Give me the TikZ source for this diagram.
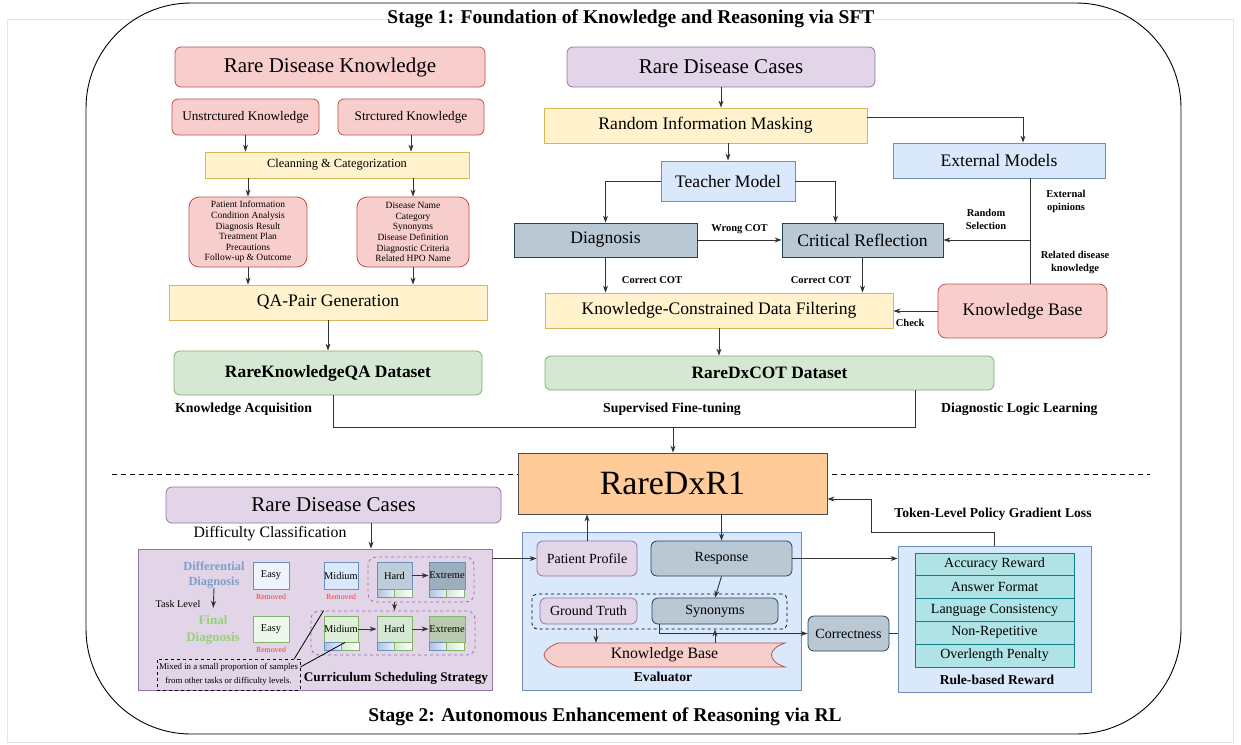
\documentclass[tikz,border=0pt]{standalone}
\usepackage{fontspec}
\setmainfont{Liberation Serif}
\usetikzlibrary{arrows.meta}

\definecolor{redfill}{HTML}{F8CECC}
\definecolor{reddraw}{HTML}{B85450}
\definecolor{yelfill}{HTML}{FFF2CC}
\definecolor{yeldraw}{HTML}{D6B656}
\definecolor{purfill}{HTML}{E1D5E7}
\definecolor{purdraw}{HTML}{9673A6}
\definecolor{blufill}{HTML}{DAE8FC}
\definecolor{bludraw}{HTML}{6C8EBF}
\definecolor{grnfill}{HTML}{D5E8D4}
\definecolor{grndraw}{HTML}{82B366}
\definecolor{gbfill}{HTML}{BAC8D3}
\definecolor{gbdraw}{HTML}{23445D}
\definecolor{orafill}{HTML}{FFCC99}
\definecolor{tealfill}{HTML}{B0E3E6}
\definecolor{tealdraw}{HTML}{0E8088}
\definecolor{easyblue}{HTML}{EEF4FD}
\definecolor{easygreen}{HTML}{EEF8EA}
\definecolor{hardblue}{HTML}{BFCCDA}
\definecolor{extblue}{HTML}{9DAEBF}
\definecolor{midgreen}{HTML}{E0EFDA}
\definecolor{extgreen}{HTML}{B8CBB0}
\definecolor{ddblue}{HTML}{7E9FCB}
\definecolor{fdgreen}{HTML}{97D077}
\definecolor{rmvred}{HTML}{FF3333}

\tikzset{
  >={Stealth[length=7pt,width=5pt]},
  conn/.style={draw=black!80, line width=0.9pt},
  dims/.style 2 args={minimum width=#1pt, minimum height=#2pt},
  box/.style={draw, rectangle, align=center, inner sep=1pt, line width=0.8pt},
  rnd/.style={rounded corners=6pt},
  redbox/.style={box, rnd, fill=redfill, draw=reddraw},
  yelbox/.style={box, fill=yelfill, draw=yeldraw},
  purbox/.style={box, fill=purfill, draw=purdraw},
  blubox/.style={box, fill=blufill, draw=bludraw},
  grnbox/.style={box, rnd, fill=grnfill, draw=grndraw},
  gbox/.style={box, fill=gbfill, draw=gbdraw},
  tealbox/.style={box, fill=tealfill, draw=tealdraw},
  difbox/.style={box, inner sep=0pt, font=\fontsize{10.4}{12}\selectfont},
  grpbox/.style={draw=purdraw, dashed, rounded corners=8pt, line width=0.8pt},
  f21/.style={font=\fontsize{21}{25}\selectfont},
  f176/.style={font=\fontsize{17.6}{21}\selectfont},
  f158/.style={font=\fontsize{15.8}{19}\selectfont},
  f14/.style={font=\fontsize{14}{17}\selectfont},
  f13/.style={font=\fontsize{13.2}{16}\selectfont},
  lbl/.style={font=\bfseries\fontsize{10.5}{13}\selectfont, align=center, inner sep=0pt},
  lbl2/.style={font=\bfseries\fontsize{13.8}{16}\selectfont, inner sep=0pt},
  lbl3/.style={font=\bfseries\fontsize{13.6}{16}\selectfont, inner sep=0pt},
  rmv/.style={font=\fontsize{7.8}{9}\selectfont, text=rmvred, inner sep=0pt},
  title/.style={font=\bfseries\fontsize{19.5}{23}\selectfont, inner sep=0pt}
}

\begin{document}
\begin{tikzpicture}[x=1pt, y=-1pt]
    \useasboundingbox (0,0) rectangle (1241,744);
    % frame
    \draw[gray!20, line width=0.8pt] (7,19) rectangle (1233,742);
    \draw[line width=0.9pt, rounded corners=105pt] (86,3) rectangle (1181,734);
    \node[title] (st1) at (631,19) {Stage 1: Foundation of Knowledge and Reasoning via SFT};
    \node[title] (st2) at (605,717) {Stage 2: Autonomous Enhancement of Reasoning via RL};

    % stage 1, knowledge
    \node[redbox, dims={310}{40}, f21] (rdk) at (330,67) {Rare Disease Knowledge};
    \node[redbox, dims={147}{36}, f13] (unstr) at (245.5,117) {Unstrctured Knowledge};
    \node[redbox, dims={146}{36}, f13] (str) at (411,117) {Strctured Knowledge};
    \node[yelbox, dims={264}{26}, font=\fontsize{12.4}{15}\selectfont] (clean) at (337,165) {Cleanning \& Categorization};
    \node[redbox, rounded corners=10pt, dims={118}{70}, font=\fontsize{9.5}{10.6}\selectfont] (patl) at (248,232)
        {Patient Information\\Condition Analysis\\Diagnosis Result\\Treatment Plan\\Precautions\\Follow-up \& Outcome};
    \node[redbox, rounded corners=10pt, dims={112}{70}, font=\fontsize{9.5}{10.6}\selectfont] (disl) at (413,232)
        {Disease Name\\Category\\Synonyms\\Disease Definition\\Diagnostic Criteria\\Related HPO Name};
    \node[yelbox, dims={318}{35}, f176] (qa) at (328,302.5) {QA-Pair Generation};
    \node[grnbox, dims={308}{44}, font=\bfseries\fontsize{17.4}{21}\selectfont] (rkqa) at (328,373) {RareKnowledgeQA Dataset};
    \node[lbl2, anchor=west] (kacq) at (175,409) {Knowledge Acquisition};

    \draw[conn,->] (unstr.south) -- (unstr.south |- clean.north);
    \draw[conn,->] (str.south) -- (str.south |- clean.north);
    \draw[conn,->] (clean.south -| patl.north) -- (patl.north);
    \draw[conn,->] (clean.south -| disl.north) -- (disl.north);
    \draw[conn,->] (patl.south) -- (patl.south |- qa.north);
    \draw[conn,->] (disl.south) -- (disl.south |- qa.north);
    \draw[conn,->] (qa.south) -- (rkqa.north);

    % stage 1, cases
    \node[purbox, rnd, dims={308}{40}, f21] (rdc1) at (721,67) {Rare Disease Cases};
    \node[yelbox, dims={323}{35}, f176] (rim) at (705.5,125.5) {Random Information Masking};
    \node[blubox, dims={212}{35}, f176] (extm) at (999,160.5) {External Models};
    \node[blubox, dims={134}{40}, f176] (teacher) at (728,181) {Teacher Model};
    \node[gbox, dims={183}{34}, f176] (diag) at (605.5,240) {Diagnosis};
    \node[gbox, dims={161}{34}, f176] (crit) at (862.5,240) {Critical Reflection};
    \node[yelbox, dims={348}{35}, f176] (kcdf) at (719,310.5) {Knowledge-Constrained Data Filtering};
    \node[redbox, rounded corners=8pt, dims={169}{54}, f176] (kb1) at (1022.5,311) {Knowledge Base};
    \node[grnbox, dims={449}{34}, font=\bfseries\fontsize{17.4}{21}\selectfont] (rdxcot) at (769.5,373) {RareDxCOT Dataset};
    \node[lbl] (rsel) at (986,219) {Random\\Selection};
    \node[lbl] (extop) at (1066,201) {External\\opinions};
    \node[lbl] (reldk) at (1075,263) {Related disease\\knowledge};
    \node[lbl2] (sft) at (672,409) {Supervised Fine-tuning};
    \node[lbl2, anchor=west] (dll) at (941,409) {Diagnostic Logic Learning};

    \draw[conn,->] (rdc1.south) -- (rdc1.south |- rim.north);
    \draw[conn,->] ([yshift=8.5pt]rim.east) -| ([xshift=24pt]extm.north);
    \draw[conn,->] (rim.south -| teacher.north) -- (teacher.north);
    \draw[conn,->] (teacher.west) -| (diag.north);
    \draw[conn,->] (teacher.east) -| ([xshift=-27pt]crit.north);
    \draw[conn,->] (diag.east) -- node[lbl, above=6pt] {Wrong COT} (crit.west);
    \draw[conn,->] (diag.south) -- node[lbl, right=16pt, pos=0.65] {Correct COT} (diag.south |- kcdf.north);
    \draw[conn,->] (crit.south) -- node[lbl, left=11pt, pos=0.65] {Correct COT} (crit.south |- kcdf.north);
    \coordinate (ekx) at ([xshift=31pt]extm.south);
    \draw[conn] (ekx) -- (ekx |- kb1.north);
    \draw[conn,->] (ekx |- crit.east) -- (crit.east);
    \draw[conn,->] (kb1.west) -- node[lbl, below=8pt, pos=0.62] {Check} (kb1.west -| kcdf.east);
    \draw[conn,->] (kcdf.south) -- (kcdf.south |- rdxcot.north);

    % merge into RareDxR1
    \coordinate (mgL) at (333,427);
    \coordinate (mgR) at (915,427);
    \coordinate (mg) at (673,427);
    \draw[line width=1pt, dash pattern=on 5pt off 4pt] (112,474) -- (1150,474);
    \node[box, fill=orafill, draw=black!70, dims={309}{61}, font=\fontsize{34}{40}\selectfont] (rdxr1) at (672.5,483.5) {RareDxR1};
    \draw[conn] (rkqa.south -| mgL) -- (mgL) -- (mgR) -- (rdxcot.south -| mgR);
    \draw[conn,->] (mg) -- (mg |- rdxr1.north);

    % stage 2, curriculum
    \node[purbox, rnd, dims={335}{36}, f21] (rdc2) at (333.5,505) {Rare Disease Cases};
    \node[f158] (dcls) at (270,534) {Difficulty Classification};
    \node[purbox, dims={354}{141}] (cur) at (315,619.5) {};
    \node[grpbox, dims={106}{45}] (grp1) at (421,579.5) {};
    \node[grpbox, dims={164}{44}] (grp2) at (393,633) {};
    \node[font=\bfseries\fontsize{12.4}{15}\selectfont, text=ddblue, align=center, inner sep=0pt] (ddx) at (214,574.5) {Differential\\Diagnosis};
    \node[font=\fontsize{10.2}{12}\selectfont] (tlv) at (178,604) {Task Level};
    \node[font=\bfseries\fontsize{13}{17}\selectfont, text=fdgreen, align=center, inner sep=0pt] (fdx) at (213,629.5) {Final\\Diagnosis};
    \node[difbox, dims={36}{27}, fill=easyblue, draw=bludraw] (easy1) at (271,575.5) {Easy};
    \node[difbox, dims={34}{27}, fill=blufill, draw=bludraw] (mid1) at (341,575.5) {Midium};
    \node[difbox, dims={35}{27}, fill=hardblue, draw=bludraw] (hard1) at (394.5,575.5) {Hard};
    \node[difbox, dims={36}{27}, fill=extblue, draw=bludraw] (ext1) at (447,575.5) {Extreme};
    \node[difbox, dims={36}{26}, fill=easygreen, draw=grndraw] (easy2) at (271,629) {Easy};
    \node[difbox, dims={34}{26}, fill=midgreen, draw=grndraw] (mid2) at (341,629) {Midium};
    \node[difbox, dims={35}{26}, fill=grnfill, draw=grndraw] (hard2) at (394.5,629) {Hard};
    \node[difbox, dims={36}{26}, fill=extgreen, draw=grndraw] (ext2) at (447,629) {Extreme};
    \foreach \bx/\by in {377/589, 429/589, 324/642, 377/642, 429/642} {
        \shade[left color=bludraw!55, right color=blufill!60] (\bx,\by) rectangle ++(17.5,8);
        \draw[bludraw, line width=0.7pt] (\bx,\by) rectangle ++(17.5,8);
        \shade[left color=grnfill, right color=white] (\bx+17.5,\by) rectangle ++(17.5,8);
        \draw[grndraw, line width=0.7pt] (\bx+17.5,\by) rectangle ++(17.5,8);
    }
    \node[rmv] (rm1) at (271,597) {Removed};
    \node[rmv] (rm2) at (341,597) {Removed};
    \node[rmv] (rm3) at (271,650) {Removed};
    \node[draw, dashed, line width=0.8pt, dims={143}{31}, align=center, inner sep=0pt, font=\fontsize{8.8}{14}\selectfont] (note) at (228.5,674.5)
        {Mixed in a small proportion of samples\\from other tasks or difficulty levels.};
    \node[font=\bfseries\fontsize{13.2}{15}\selectfont, inner sep=0pt] (css) at (396,678) {Curriculum Scheduling Strategy};

    \draw[conn,->] ([xshift=37.5pt]rdc2.south) -- ([xshift=37.5pt]rdc2.south |- cur.north);
    \draw[conn,->, shorten >=7pt] (ddx.south) -- (fdx.north);
    \draw[conn,->] (hard1) -- (ext1);
    \draw[conn,->] (grp1.south -| hard1) -- (grp2.north -| hard1);
    \draw[conn,->] (mid2) -- (hard2);
    \draw[conn,->] (hard2) -- (ext2);
    \draw[line width=0.8pt] ([xshift=-6pt]note.north east) -- ([xshift=13pt]grp2.north west);
    \draw[line width=0.8pt] ([yshift=7.5pt]note.east) -- ([xshift=4pt]mid2.south);

    % stage 2, evaluator
    \node[blubox, dims={279}{158}] (eval) at (661.5,611) {};
    \node[purbox, rnd, dims={100}{35}, f14] (pprof) at (587,558.5) {Patient Profile};
    \node[gbox, rnd, dims={141}{35}, f14] (resp) at (721.5,558.5) {Response};
    \node[draw, dashed, line width=0.8pt, rounded corners=5pt, dims={255}{35}] (gtg) at (659.5,611.5) {};
    \node[purbox, rnd, dims={97}{26}, f14] (gt) at (588.5,611) {Ground Truth};
    \node[gbox, rnd, dims={126}{26}, f14] (syn) at (715,611) {Synonyms};
    \draw[fill=redfill, draw=reddraw, line width=0.8pt] (558,643) -- (785,643)
        .. controls (767,649) and (767,661) .. (785,667) -- (558,667)
        .. controls (550,664) and (544,659) .. (544,655)
        .. controls (544,651) and (550,646) .. (558,643) -- cycle;
    \node[f158, dims={241}{24}, inner sep=0pt] (kb2) at (664.5,655) {Knowledge Base};
    \node[lbl3] (evl) at (663,677) {Evaluator};
    \node[gbox, rnd, dims={81}{35}, f14] (corr) at (848.5,633.5) {Correctness};

    % stage 2, reward
    \node[blubox, dims={193}{146}] (rwd) at (994.5,619) {};
    \foreach \i/\t in {0/Accuracy Reward, 1/Answer Format, 2/Language Consistency, 3/Non-Repetitive, 4/Overlength Penalty}
        \node[tealbox, dims={159}{22.8}, f14] (r\i) at (994.5,{564.4+22.8*\i}) {\t};
    \node[lbl3] (rbr) at (997,680) {Rule-based Reward};
    \node[lbl3] (tok) at (993,514) {Token-Level Policy Gradient Loss};

    \coordinate (gtx) at ([xshift=7.5pt]gt.south);
    \draw[conn,->] (cur.east |- pprof.west) -- (pprof.west);
    \draw[conn,->] (pprof.north) -- (pprof.north |- rdxr1.south);
    \draw[conn,->] (rdxr1.south -| resp.north) -- (resp.north);
    \draw[conn,->] (resp.south) -- (syn.north);
    \draw[conn,->] (resp.east) -- (resp.east -| rwd.west);
    \draw[conn,->] (gtx |- gtg.south) -- (gtx |- kb2.north);
    \draw[conn,->] (kb2.north -| syn.south) -- (gtg.south -| syn.south);
    \draw[conn,->] ([xshift=-56pt]syn.south) |- (corr.west);
    \draw[conn] (corr.east) -- (corr.east -| rwd.west);
    \coordinate (tk) at (871,532);
    \draw[conn,->] (rwd.north) |- (tk) |- ([yshift=-15.5pt]rdxr1.east);
\end{tikzpicture}
\end{document}
